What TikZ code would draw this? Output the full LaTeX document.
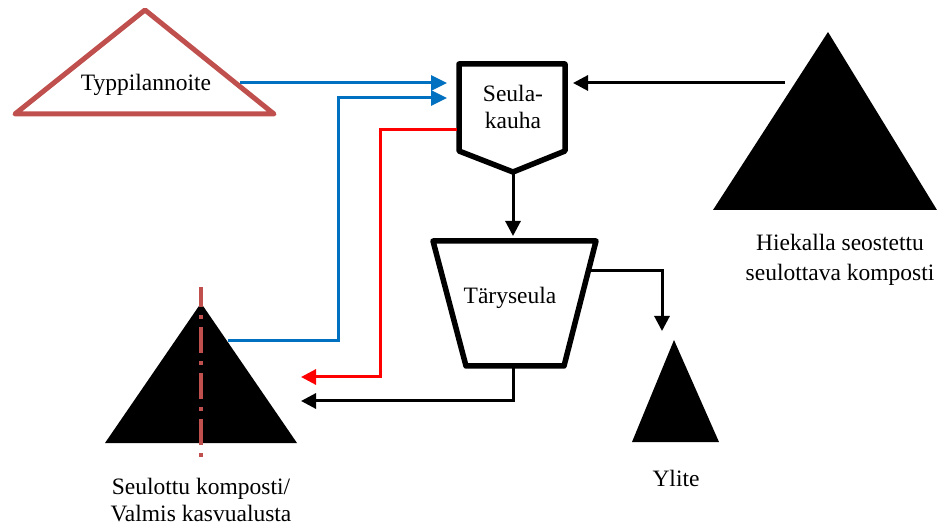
\documentclass[tikz,border=0pt]{standalone}
\usepackage{fontspec}
\setmainfont{Liberation Serif}
\usetikzlibrary{arrows.meta}
\definecolor{tri}{HTML}{C0504D}
\definecolor{bl}{HTML}{0070C0}
\definecolor{rd}{HTML}{FF0000}
\begin{document}
\begin{tikzpicture}[x=1pt,y=-1pt,
  lbl/.style={font=\fontsize{23.5}{26.5}\selectfont, inner sep=0pt, align=center},
  box/.style={draw=black, line width=5.5pt, line join=round, fill=white},
  conn/.style={line width=3pt, -{Triangle[length=15pt,width=15pt]}},
  bconn/.style={conn, draw=bl, -{Triangle[length=16pt,width=15pt,fill=bl]}},
  rconn/.style={conn, draw=rd, -{Triangle[length=15pt,width=15pt,fill=rd]}},
  heap/.style={fill=black, line join=round}]
\useasboundingbox (0,0) rectangle (937,526);
% red outline triangle
\draw[draw=tri, line width=5pt, line join=round] (145,10) -- (274,114) -- (15,114) -- cycle;
\node[lbl] (typ) at (146,85) {Typpilannoite};
\coordinate (typout) at (240,83);
% Seulakauha
\draw[box] (459,64) -- (565,64) -- (565,151) -- (513,172) -- (459,151) -- cycle;
\node[lbl] (kauha) at (513,107) {Seula-\\kauha};
\coordinate (kbot) at (513,172);
\coordinate (kin1) at (447,83);
\coordinate (kin2) at (447,98);
\coordinate (kred) at (457,130);
\coordinate (kright) at (573,83);
% right heap
\fill[heap] (828,32) -- (937,210) -- (713,210) -- cycle;
\coordinate (rheap) at (785,83);
\node[lbl] (hiek) at (840,260) {Hiekalla seostettu\\[3pt]seulottava komposti};
% trapezoid
\draw[box] (433,241) -- (596,241) -- (564,366) -- (466,366) -- cycle;
\node[lbl] (tary) at (510,298) {Täryseula};
\coordinate (ttop) at (513,236);
\coordinate (tside) at (588,271);
\coordinate (tbot) at (513,366);
% Ylite heap
\fill[heap] (674,340) -- (719,442) -- (632,442) -- cycle;
\node[lbl] (ylite) at (676,478) {Ylite};
\coordinate (ytop) at (662,331);
% left heap
\fill[heap] (201,303) -- (297,443) -- (105,443) -- cycle;
\draw[draw=tri, line width=3.5pt, dash pattern=on 4pt off 8pt on 26pt off 8pt] (201,457) -- (201,287);
\node[lbl] (seul) at (201,500) {Seulottu komposti/\\Valmis kasvualusta};
\coordinate (lout) at (228,341);
\coordinate (lred) at (301,377);
\coordinate (lblk) at (301,401);
% connectors
\draw[bconn] (typout) -- (kin1);
\draw[bconn] (lout) -| (338,98) -- (kin2);
\draw[rconn] (kred) -| (380,377) -- (lred);
\draw[conn] (kbot) -- (ttop);
\draw[conn] (rheap) -- (kright);
\draw[conn] (tside) -| (ytop);
\draw[conn] (tbot) |- (lblk);
\end{tikzpicture}
\end{document}
